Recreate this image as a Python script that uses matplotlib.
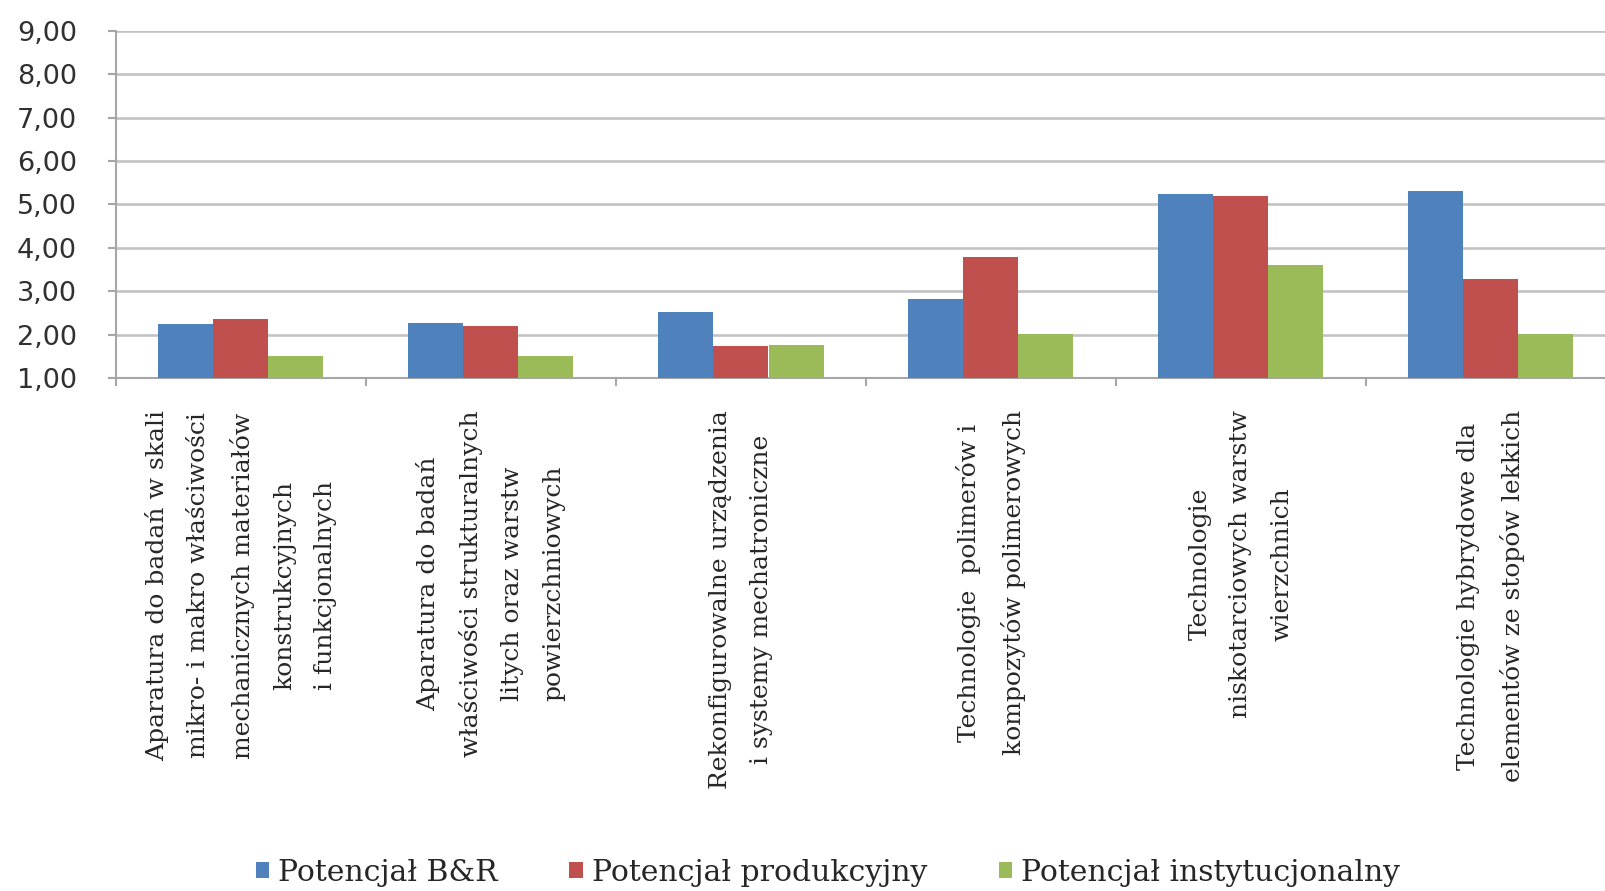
import numpy as np
import matplotlib
matplotlib.use('Agg')
from matplotlib import pyplot as plt
from matplotlib.ticker import FuncFormatter, MultipleLocator

## Data ##
categories = [
    'Aparatura do badań w skali\nmikro- i makro właściwości\nmechanicznych materiałów\nkonstrukcyjnych\ni funkcjonalnych',
    'Aparatura do badań\nwłaściwości strukturalnych\nlitych oraz warstw\npowierzchniowych',
    'Rekonfigurowalne urządzenia\ni systemy mechatroniczne',
    'Technologie  polimerów i\nkompozytów polimerowych',
    'Technologie\nniskotarciowych warstw\nwierzchnich',
    'Technologie hybrydowe dla\nelementów ze stopów lekkich',
]
potencjal_br = [2.25, 2.26, 2.52, 2.81, 5.24, 5.30]
potencjal_prod = [2.35, 2.20, 1.73, 3.79, 5.19, 3.28]
potencjal_inst = [1.50, 1.51, 1.75, 2.01, 3.60, 2.01]
series_names = ['Potencjał B&R', 'Potencjał produkcyjny', 'Potencjał instytucjonalny']
colors = ['#4F81BD', '#C0504D', '#9BBB59']

## Figure ##
W, H = 1606, 891
fig = plt.figure(figsize=(W/100, H/100), dpi=100)
left, right = 116/W, 1616/W
bottom, top = 1 - 378/H, 1 - 30.7/H
ax = fig.add_axes([left, bottom, right - left, top - bottom])

x = np.arange(len(categories))
bw = 0.22
base = 1.0
series = [potencjal_br, potencjal_prod, potencjal_inst]
handles = []
for i, (vals, col) in enumerate(zip(series, colors)):
    h = ax.bar(x + (i - 1)*bw, np.array(vals) - base, bw, bottom=base,
               color=col, zorder=3, linewidth=0)
    handles.append(h)

ax.set_xlim(-0.5, len(categories) - 0.5)
ax.set_ylim(1, 9)
ax.yaxis.set_major_locator(MultipleLocator(1))
ax.yaxis.set_major_formatter(FuncFormatter(lambda v, p: ('%.2f' % v).replace('.', ',')))
ax.grid(axis='y', color='#C3C3C3', linewidth=1.9, zorder=0)

for s in ['top', 'right']:
    ax.spines[s].set_visible(False)
for s in ['left', 'bottom']:
    ax.spines[s].set_color('#A6A6A6')
    ax.spines[s].set_linewidth(1.5)

ax.tick_params(axis='y', length=6, width=1.5, color='#A6A6A6', pad=22,
               labelsize=19.5, labelcolor='#303030')
for lab in ax.get_yticklabels():
    lab.set_family('DejaVu Sans')

# category labels at centres, tick marks at group boundaries
ax.set_xticks(x)
ax.set_xticklabels(categories, rotation=90, ha='center', va='top',
                   multialignment='center', linespacing=2.0,
                   fontsize=18, family='DejaVu Serif', color='#262626')
ax.tick_params(axis='x', which='major', length=0, pad=23)
ax.set_xticks(np.arange(len(categories) + 1) - 0.5, minor=True)
ax.tick_params(axis='x', which='minor', length=6, width=1.5, color='#A6A6A6')

leg = fig.legend(handles, series_names, loc='center', ncol=3,
                 bbox_to_anchor=(828/W, 1 - 873/H), frameon=False,
                 prop={'family': 'DejaVu Serif', 'size': 21.5},
                 handlelength=0.45, handleheight=0.45, handletextpad=0.3,
                 columnspacing=2.4)
for t in leg.get_texts():
    t.set_color('#262626')

plt.savefig('out.png', dpi=100)
